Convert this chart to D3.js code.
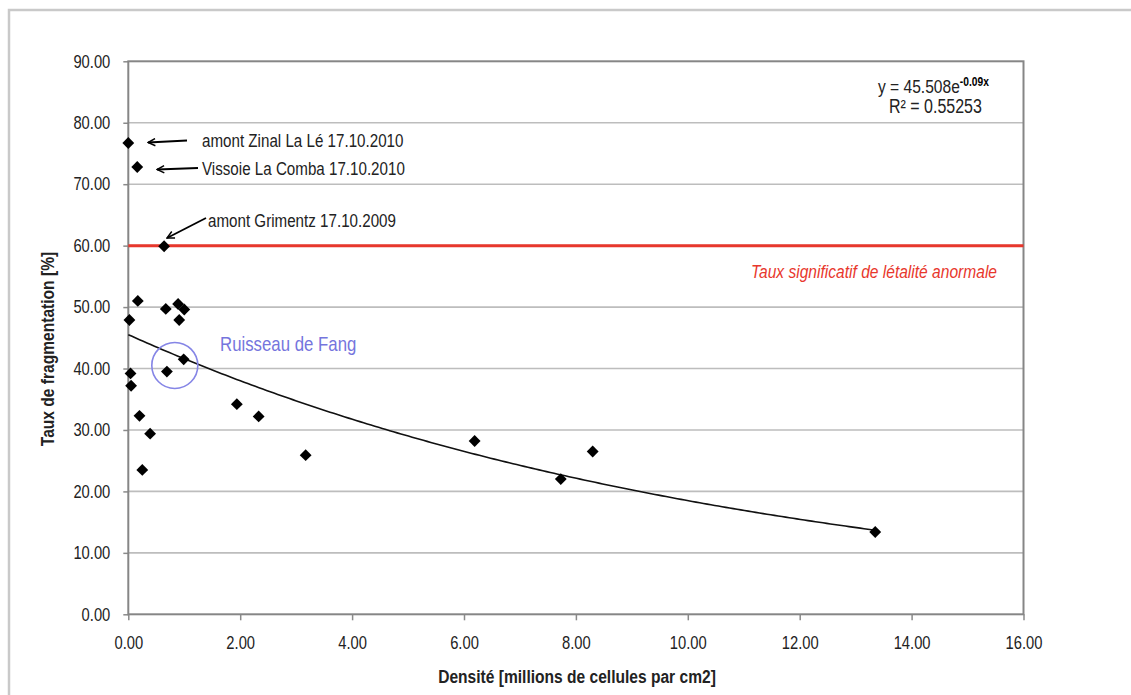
<!DOCTYPE html>
<html>
<head>
<meta charset="utf-8">
<script src="https://cdn.jsdelivr.net/npm/d3@7"></script>
<style>
  html, body { margin: 0; padding: 0; background: #fff; }
  svg text { font-family: "Liberation Sans", Arial, sans-serif; }
</style>
</head>
<body>
<svg id="chart" width="1131" height="695"></svg>
<script>
// Density (millions of cells per cm2) and fragmentation rate (%)
const density = [0.00, 0.16, 0.64, 0.17, 0.02, 0.67, 0.89, 1.00, 0.91, 0.99, 0.69, 0.04, 0.05,
                 0.20, 0.39, 0.25, 1.94, 2.33, 3.17, 6.19, 7.73, 8.30, 13.35];
const fragmentation = [76.7, 72.8, 59.9, 51.0, 47.9, 49.7, 50.5, 49.6, 47.9, 41.5, 39.5, 39.2, 37.2,
                       32.3, 29.4, 23.5, 34.2, 32.2, 25.9, 28.2, 22.0, 26.5, 13.4];

const xTicks = [0, 2, 4, 6, 8, 10, 12, 14, 16];
const yTicks = [0, 10, 20, 30, 40, 50, 60, 70, 80, 90];

// Exponential trendline y = a * e^(k x)
const fitA = 45.508;
const fitK = -0.09;
const fitR2 = 0.55253;

// Threshold of abnormal lethality
const threshold = 60;

// Labelled samples: index into the arrays above
const notes = [
  { idx: 0, text: "amont Zinal La Lé 17.10.2010" },
  { idx: 1, text: "Vissoie La Comba 17.10.2010" },
  { idx: 2, text: "amont Grimentz 17.10.2009" }
];
const fangIdx = [10, 9]; // "Ruisseau de Fang" samples

// horizontal squeeze giving the narrow typeface look
const NARROW = 0.82;

const svg = d3.select("#chart");

// text helper: narrow text anchored at (x, y), optional rotation
function ntext(x, y, str, opts = {}) {
  const rot = opts.rotate ? ` rotate(${opts.rotate})` : "";
  return svg.append("text")
    .attr("transform", `translate(${x},${y})${rot} scale(${opts.squeeze ?? NARROW},1)`)
    .attr("text-anchor", opts.anchor || "start")
    .attr("font-size", opts.size || 18)
    .attr("font-weight", opts.weight || null)
    .attr("font-style", opts.style || null)
    .attr("fill", opts.fill || "#222")
    .text(str);
}

// outer frame
svg.append("rect")
  .attr("x", 9).attr("y", 10).attr("width", 1140).attr("height", 700)
  .attr("fill", "none").attr("stroke", "#c9c9c9").attr("stroke-width", 2.5);

const plot = { left: 128.3, right: 1023.5, top: 61.3, bottom: 614.3 };

const x = d3.scaleLinear().domain([0, 16]).range([plot.left, plot.right]);
const y = d3.scaleLinear().domain([0, 90]).range([plot.bottom, plot.top]);

// horizontal gridlines
svg.append("g").selectAll("line").data(yTicks.filter(t => t > 0 && t < 90)).join("line")
  .attr("x1", plot.left).attr("x2", plot.right)
  .attr("y1", d => y(d)).attr("y2", d => y(d))
  .attr("stroke", "#bdbdbd").attr("stroke-width", 1.6);

// axes
const fmt = d3.format(".2f");
const yAxis = svg.append("g").attr("transform", `translate(${plot.left},0)`)
  .call(d3.axisLeft(y).tickValues(yTicks).tickFormat(fmt).tickSize(5).tickPadding(13));
const xAxis = svg.append("g").attr("transform", `translate(0,${plot.bottom})`)
  .call(d3.axisBottom(x).tickValues(xTicks).tickFormat(fmt).tickSize(6).tickPadding(16));
[xAxis, yAxis].forEach(g => {
  g.select(".domain").remove();
  g.selectAll(".tick line").attr("stroke", "#8a8a8a").attr("stroke-width", 1.5);
  g.selectAll(".tick text").attr("font-size", 18).attr("fill", "#222")
    .style("font-family", '"Liberation Sans", Arial, sans-serif')
    .attr("transform", `scale(${NARROW},1)`);
});
yAxis.selectAll(".tick text").attr("x", -18 / NARROW);

// plot frame
svg.append("rect")
  .attr("x", plot.left).attr("y", plot.top)
  .attr("width", plot.right - plot.left).attr("height", plot.bottom - plot.top)
  .attr("fill", "none").attr("stroke", "#868686").attr("stroke-width", 2);

// threshold line
svg.append("line")
  .attr("x1", plot.left).attr("x2", plot.right)
  .attr("y1", y(threshold)).attr("y2", y(threshold))
  .attr("stroke", "#e8372c").attr("stroke-width", 3);
ntext(997, y(threshold) + 32, "Taux significatif de létalité anormale",
  { anchor: "end", size: 19, style: "italic", fill: "#e8372c" });

// trendline
const xMax = d3.max(density);
const fitPts = d3.range(0, 201).map(i => xMax * i / 200);
svg.append("path")
  .datum(fitPts)
  .attr("fill", "none").attr("stroke", "#111").attr("stroke-width", 1.6)
  .attr("d", d3.line().x(d => x(d)).y(d => y(fitA * Math.exp(fitK * d))));

// circle around the Ruisseau de Fang samples
const fx = d3.mean(fangIdx, i => x(density[i]));
const fy = d3.mean(fangIdx, i => y(fragmentation[i]));
svg.append("circle")
  .attr("cx", fx - 0.5).attr("cy", fy).attr("r", 23)
  .attr("fill", "none").attr("stroke", "#8585e6").attr("stroke-width", 1.6);
ntext(220, 351, "Ruisseau de Fang", { size: 20.5, fill: "#7575dd" });

// data points
const diamond = d3.symbol().type(d3.symbolSquare).size(70);
svg.append("g").selectAll("path").data(density.map((d, i) => [d, fragmentation[i]])).join("path")
  .attr("d", diamond)
  .attr("transform", d => `translate(${x(d[0])},${y(d[1])}) rotate(45)`)
  .attr("fill", "#000");

// annotation arrows and labels
svg.append("defs").append("marker")
  .attr("id", "arrowhead").attr("viewBox", "0 0 10 10")
  .attr("refX", 9).attr("refY", 5).attr("markerWidth", 9).attr("markerHeight", 9)
  .attr("markerUnits", "userSpaceOnUse").attr("orient", "auto")
  .append("path").attr("d", "M1,1 L9,5 L1,9").attr("fill", "none")
  .attr("stroke", "#000").attr("stroke-width", 1.6);

const arrowGeom = [
  { from: [187, 140.5], to: [148, 142.5], tx: 202, ty: 146.5 },
  { from: [198, 168], to: [157, 169.5], tx: 202, ty: 175 },
  { from: [206, 218], to: [167, 238], tx: 208, ty: 227 }
];
notes.forEach((n, i) => {
  const g = arrowGeom[i];
  svg.append("line")
    .attr("x1", g.from[0]).attr("y1", g.from[1]).attr("x2", g.to[0]).attr("y2", g.to[1])
    .attr("stroke", "#000").attr("stroke-width", 1.8).attr("marker-end", "url(#arrowhead)");
  ntext(g.tx, g.ty, n.text, { size: 18.5 });
});

// trendline equation
const eq = ntext(878, 93, "", { size: 19 });
eq.append("tspan").text("y = " + fitA.toFixed(3) + "e");
eq.append("tspan").attr("dy", -7).attr("font-size", 12.5).attr("font-weight", "bold")
  .attr("fill", "#000").text(fitK.toFixed(2) + "x");
ntext(889, 113, "R² = " + fitR2, { size: 19.5 });

// axis titles
ntext(577, 683, "Densité [millions de cellules par cm2]", { anchor: "middle", size: 19, weight: "bold" });
ntext(54, 349, "Taux de fragmentation [%]", { anchor: "middle", size: 19, weight: "bold", rotate: -90 });
</script>
</body>
</html>
